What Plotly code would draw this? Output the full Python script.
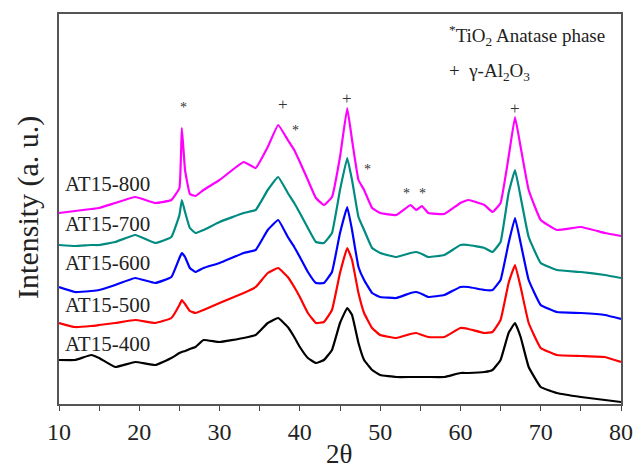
import plotly.graph_objects as go

two_theta = [10, 12, 14, 15, 17, 19.5, 22, 24, 25, 25.3, 25.7, 26.3, 27, 28, 30, 33, 34.5, 36, 37.3, 38.5,
             39.3, 40, 41, 42, 43, 44, 45, 45.9, 46.5, 47.3, 48, 49, 50, 52, 53.8, 54.5, 55.2, 56, 58, 60,
             61, 63, 64, 65, 66, 66.8, 67.5, 68.5, 70, 72, 75, 78, 80]

at800 = [191, 193, 195, 196, 201, 207, 201, 204, 216, 276, 234, 210, 208, 214, 224, 242, 236, 257, 279, 264,
         254, 242, 224, 206, 199, 207, 247, 296, 264, 224, 214, 196, 191, 189, 199, 194, 198, 191, 190, 201,
         204, 199, 192, 201, 247, 287, 257, 214, 184, 174, 177, 171, 168]
at700 = [159, 158, 159, 159, 162, 169, 161, 167, 189, 204, 192, 176, 171, 174, 182, 191, 194, 214, 227, 211,
         201, 191, 176, 162, 161, 171, 214, 246, 224, 187, 174, 156, 151, 147, 151, 152, 150, 147, 149, 159,
         159, 156, 152, 162, 211, 234, 207, 167, 141, 134, 132, 129, 126]
at600 = [117, 112, 113, 114, 119, 126, 121, 127, 146, 151, 147, 136, 132, 136, 141, 151, 154, 174, 184, 167,
         157, 147, 132, 121, 121, 132, 171, 197, 174, 137, 124, 111, 107, 106, 111, 112, 110, 107, 109, 117,
         117, 114, 114, 124, 161, 186, 161, 124, 99, 92, 91, 89, 85]
at500 = [81, 77, 78, 79, 81, 84, 81, 86, 99, 104, 100, 93, 91, 94, 101, 111, 117, 131, 136, 127,
         117, 107, 91, 81, 82, 94, 131, 156, 144, 111, 91, 76, 69, 66, 70, 71, 69, 67, 67, 76,
         75, 71, 72, 84, 121, 139, 117, 81, 56, 49, 48, 47, 42]
at400 = [44, 44, 49, 46, 37, 42, 39, 46, 51, 52, 53, 55, 57, 64, 62, 66, 69, 81, 86, 77,
         67, 57, 46, 41, 44, 54, 81, 96, 89, 61, 44, 34, 29, 27, 27, 27, 27, 27, 27, 31,
         31, 32, 34, 44, 71, 81, 67, 37, 17, 11, 7, 4, 2]

series_names = ["AT15-800", "AT15-700", "AT15-600", "AT15-500", "AT15-400"]
series_values = [at800, at700, at600, at500, at400]
series_colors = ["#FF00FF", "#008B80", "#0000FF", "#FF0000", "#000000"]
label_y = [220, 180, 141, 99, 60]

marker_x = [25.5, 37.9, 39.4, 45.9, 48.4, 53.3, 55.3, 66.8]
marker_y = [297, 300, 274, 306, 235, 211, 211, 296]
marker_txt = ["*", "+", "*", "+", "*", "*", "*", "+"]

SERIF = "Liberation Serif"

fig = go.Figure()
for name, vals, col in zip(series_names, series_values, series_colors):
    fig.add_trace(go.Scatter(x=two_theta, y=vals, mode="lines", name=name,
                             line=dict(color=col, width=2.2, shape="spline", smoothing=0.3),
                             showlegend=False))

ann = []
for name, ly in zip(series_names, label_y):
    ann.append(dict(x=10.45, y=ly, xref="x", yref="y", text=name, showarrow=False,
                    xanchor="left", yanchor="middle",
                    font=dict(family=SERIF, size=21, color="#222")))
for mx, my, mt in zip(marker_x, marker_y, marker_txt):
    ann.append(dict(x=mx, y=my, xref="x", yref="y", text=mt, showarrow=False,
                    xanchor="center", yanchor="middle",
                    font=dict(family=SERIF, size=17 if mt == "+" else 14, color="#333")))
ann.append(dict(x=58.3, y=369, xref="x", yref="y", xanchor="left", yanchor="middle", showarrow=False,
                text="<sup>*</sup>TiO<sub>2</sub> Anatase phase",
                font=dict(family=SERIF, size=19, color="#222")))
ann.append(dict(x=58.3, y=332, xref="x", yref="y", xanchor="left", yanchor="middle", showarrow=False,
                text="+  γ-Al<sub>2</sub>O<sub>3</sub>",
                font=dict(family=SERIF, size=19, color="#222")))
ann.append(dict(x=-0.055, y=0.503, xref="paper", yref="paper", xanchor="center", yanchor="middle",
                showarrow=False, textangle=-90, text="Intensity (a. u.)",
                font=dict(family=SERIF, size=30, color="#222")))
ann.append(dict(x=0.498, y=-0.128, xref="paper", yref="paper", xanchor="center", yanchor="middle",
                showarrow=False, text="2θ",
                font=dict(family=SERIF, size=27, color="#222")))

fig.update_layout(
    width=634, height=468,
    margin=dict(l=59, r=13, t=14, b=64, autoexpand=False),
    paper_bgcolor="white", plot_bgcolor="white",
    annotations=ann,
    xaxis=dict(range=[10, 80], dtick=10, tick0=10, ticks="outside", ticklen=5, tickwidth=1.2,
               tickcolor="#444", showgrid=False, zeroline=False, showline=True, linecolor="#555",
               linewidth=1.5, mirror=True, automargin=False,
               minor=dict(dtick=5, ticks="outside", ticklen=5, tickcolor="#444", showgrid=False),
               tickfont=dict(family=SERIF, size=24, color="#222")),
    yaxis=dict(range=[0, 390], showticklabels=False, ticks="", showgrid=False, zeroline=False,
               showline=True, linecolor="#555", linewidth=1.5, mirror=True, automargin=False),
)

fig.write_html("out.html")
